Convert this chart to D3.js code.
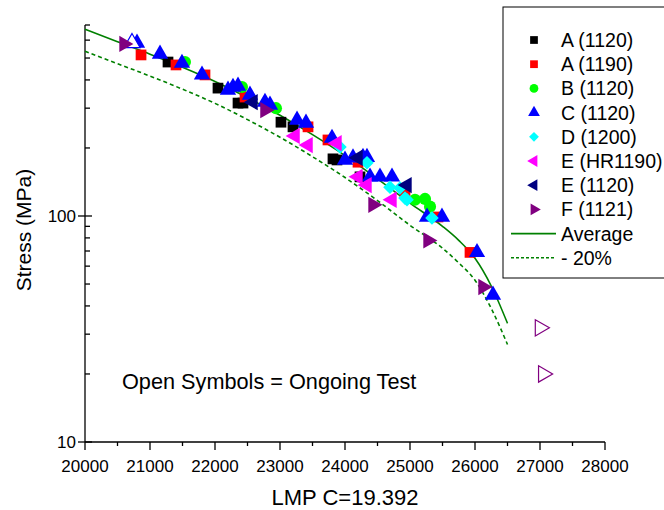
<!DOCTYPE html>
<html>
<head>
<meta charset="utf-8">
<script src="https://cdn.jsdelivr.net/npm/d3@7"></script>
<style>
  body { margin: 0; background: #fff; }
  svg { display: block; }
</style>
</head>
<body>
<svg id="svg"></svg>
<script>
// --- data: [LMP, stress MPa] ---
const a1120 = [[21277, 480], [22046, 368], [22354, 316], [22431, 316], [23015, 260], [23200, 248], [23815, 179], [23877, 177], [24231, 149]]
const a1190 = [[20862, 516], [21400, 466], [21846, 421], [22462, 336], [23431, 248], [23738, 217], [24200, 173], [24923, 128], [25431, 99], [25923, 69]]
const b1120 = [[21538, 480], [22415, 372], [22938, 300], [25077, 118], [25231, 119], [25308, 110]]
const c1120 = [[20800, 583], [21154, 521], [21492, 475], [21800, 421], [22200, 361], [22277, 372], [22354, 376], [22538, 343], [22769, 319], [22846, 310],
               [23262, 266], [23400, 258], [23800, 221], [24000, 177], [24123, 181], [24277, 182], [24338, 182], [24385, 149], [24538, 149], [24723, 149],
               [25262, 99], [25492, 99], [26031, 69], [26277, 44.7]]
const c1120Open = [[20723, 583]]
const d1200 = [[23923, 202], [24338, 172], [24692, 134], [24846, 133], [24923, 120], [24954, 118], [25338, 98]]
const eHr1190 = [[23231, 226], [23431, 206], [23877, 210], [24200, 149], [24338, 137], [24723, 118]]
const e1120 = [[22585, 319], [24200, 181], [24954, 137]]
const f1121 = [[20600, 577], [22769, 294], [24431, 112], [25277, 78], [26123, 48.5]]
const f1121Open = [[27000, 32], [27050, 20]]

const average = [[20000, 670], [20500, 590], [21000, 520], [21500, 455], [22000, 394], [22500, 334], [23000, 279], [23500, 229],
                 [24000, 185], [24500, 146], [25000, 114], [25500, 90], [25750, 78], [26000, 65], [26250, 49], [26500, 33.5]]
const minus20 = [[20000, 536], [20500, 472], [21000, 416], [21500, 364], [22000, 315], [22500, 267], [23000, 223], [23500, 183],
                 [24000, 148], [24500, 117], [25000, 91], [25500, 72], [25750, 62], [26000, 52], [26250, 39], [26500, 27]]

const xTicks = [20000, 21000, 22000, 23000, 24000, 25000, 26000, 27000, 28000]
const xMinorTicks = [20500, 21500, 22500, 23500, 24500, 25500, 26500, 27500]
const yTicks = [10, 100]
const yMinorTicks = [20, 30, 40, 50, 60, 70, 80, 90, 200, 300, 400, 500, 600, 700]

const series = [
    { name: 'A (1120)',   data: a1120,   color: '#000000', shape: 'square' },
    { name: 'A (1190)',   data: a1190,   color: '#ff0000', shape: 'square' },
    { name: 'B (1120)',   data: b1120,   color: '#00ff00', shape: 'circle' },
    { name: 'C (1120)',   data: c1120,   color: '#0000ff', shape: 'up', open: c1120Open },
    { name: 'D (1200)',   data: d1200,   color: '#00ffff', shape: 'diamond' },
    { name: 'E (HR1190)', data: eHr1190, color: '#ff00ff', shape: 'left' },
    { name: 'E (1120)',   data: e1120,   color: '#000080', shape: 'left' },
    { name: 'F (1121)',   data: f1121,   color: '#800080', shape: 'right', open: f1121Open }
]

const W = 664, H = 510
const font = 'Liberation Sans, Arial, sans-serif'

const svg = d3.select('#svg').attr('width', W).attr('height', H)

const x = d3.scaleLinear().domain([20000, 28000]).range([85, 605])
const y = d3.scaleLog().domain([10, 700]).range([442, 25])

// symbol path + rotation for each marker type
const symbolOf = (shape, size) => {
    if (shape === 'square') return { d: d3.symbol(d3.symbolSquare, size)(), rot: 0 }
    if (shape === 'circle') return { d: d3.symbol(d3.symbolCircle, size)(), rot: 0 }
    if (shape === 'diamond') return { d: d3.symbol(d3.symbolSquare, size * 0.8)(), rot: 45 }
    if (shape === 'up') return { d: d3.symbol(d3.symbolTriangle, size)(), rot: 0 }
    if (shape === 'left') return { d: d3.symbol(d3.symbolTriangle, size)(), rot: -90 }
    return { d: d3.symbol(d3.symbolTriangle, size)(), rot: 90 }
}

// --- axes ---
const axis = svg.append('g').attr('stroke', '#000').attr('stroke-width', 1.3)
axis.append('line').attr('x1', x(20000)).attr('x2', x(28000)).attr('y1', y(10)).attr('y2', y(10))
axis.append('line').attr('x1', x(20000)).attr('x2', x(20000)).attr('y1', y(10)).attr('y2', y(700))

axis.selectAll('.xt').data(xTicks).join('line')
    .attr('x1', d => x(d)).attr('x2', d => x(d)).attr('y1', y(10)).attr('y2', y(10) + 8)
axis.selectAll('.xm').data(xMinorTicks).join('line')
    .attr('x1', d => x(d)).attr('x2', d => x(d)).attr('y1', y(10)).attr('y2', y(10) + 4)
axis.selectAll('.yt').data(yTicks).join('line')
    .attr('x1', x(20000) - 7).attr('x2', x(20000) + 7).attr('y1', d => y(d)).attr('y2', d => y(d))
axis.selectAll('.ym').data(yMinorTicks).join('line')
    .attr('x1', x(20000)).attr('x2', x(20000) + 5).attr('y1', d => y(d)).attr('y2', d => y(d))

svg.selectAll('.xlab').data(xTicks).join('text')
    .text(d => d)
    .attr('font-family', font).attr('font-size', 17)
    .attr('text-anchor', 'middle')
    .attr('x', d => x(d)).attr('y', y(10) + 30)

svg.selectAll('.ylab').data(yTicks).join('text')
    .text(d => d)
    .attr('font-family', font).attr('font-size', 17)
    .attr('text-anchor', 'end')
    .attr('x', x(20000) - 9).attr('y', d => y(d) + 6)

svg.append('text')
    .text('LMP C=19.392')
    .attr('font-family', font).attr('font-size', 22)
    .attr('text-anchor', 'middle')
    .attr('x', 345).attr('y', 505)

svg.append('text')
    .text('Stress (MPa)')
    .attr('font-family', font).attr('font-size', 21)
    .attr('text-anchor', 'middle')
    .attr('transform', 'translate(31,230) rotate(-90)')

svg.append('text')
    .text('Open Symbols = Ongoing Test')
    .attr('font-family', font).attr('font-size', 21.7)
    .attr('x', 122).attr('y', 389)

// --- curves ---
const line = d3.line().x(d => x(d[0])).y(d => y(d[1])).curve(d3.curveMonotoneX)
svg.append('path').datum(average)
    .attr('d', line).attr('fill', 'none')
    .attr('stroke', '#008000').attr('stroke-width', 1.6)
svg.append('path').datum(minus20)
    .attr('d', line).attr('fill', 'none')
    .attr('stroke', '#008000').attr('stroke-width', 1.6)
    .attr('stroke-dasharray', '4,3')

// --- markers ---
series.forEach(s => {
    let sym = symbolOf(s.shape, 115)
    svg.append('g').selectAll('path').data(s.data).join('path')
        .attr('d', sym.d)
        .attr('fill', s.color)
        .attr('transform', d => `translate(${x(d[0])},${y(d[1])}) rotate(${sym.rot})`)
    if (s.open) {
        svg.append('g').selectAll('path').data(s.open).join('path')
            .attr('d', sym.d)
            .attr('fill', '#fff').attr('stroke', s.color).attr('stroke-width', 1.2)
            .attr('transform', d => `translate(${x(d[0])},${y(d[1])}) rotate(${sym.rot})`)
    }
})

// --- legend ---
const legend = svg.append('g')
legend.append('rect')
    .attr('x', 503).attr('y', 7).attr('width', 180).attr('height', 271)
    .attr('fill', '#fff').attr('stroke', '#000').attr('stroke-width', 1)

const rowY = (i) => 40 + i * 24.2

series.forEach((s, i) => {
    let sym = symbolOf(s.shape, 60)
    legend.append('path')
        .attr('d', sym.d).attr('fill', s.color)
        .attr('transform', `translate(534,${rowY(i)}) rotate(${sym.rot})`)
    legend.append('text')
        .text(s.name)
        .attr('font-family', font).attr('font-size', 19.5)
        .attr('x', 561).attr('y', rowY(i) + 7)
})

legend.append('line')
    .attr('x1', 511).attr('x2', 556).attr('y1', rowY(8)).attr('y2', rowY(8))
    .attr('stroke', '#008000').attr('stroke-width', 1.6)
legend.append('text').text('Average')
    .attr('font-family', font).attr('font-size', 19.5)
    .attr('x', 561).attr('y', rowY(8) + 7)
legend.append('line')
    .attr('x1', 511).attr('x2', 556).attr('y1', rowY(9)).attr('y2', rowY(9))
    .attr('stroke', '#008000').attr('stroke-width', 1.6).attr('stroke-dasharray', '3,2')
legend.append('text').text('- 20%')
    .attr('font-family', font).attr('font-size', 19.5)
    .attr('x', 561).attr('y', rowY(9) + 7)
</script>
</body>
</html>
